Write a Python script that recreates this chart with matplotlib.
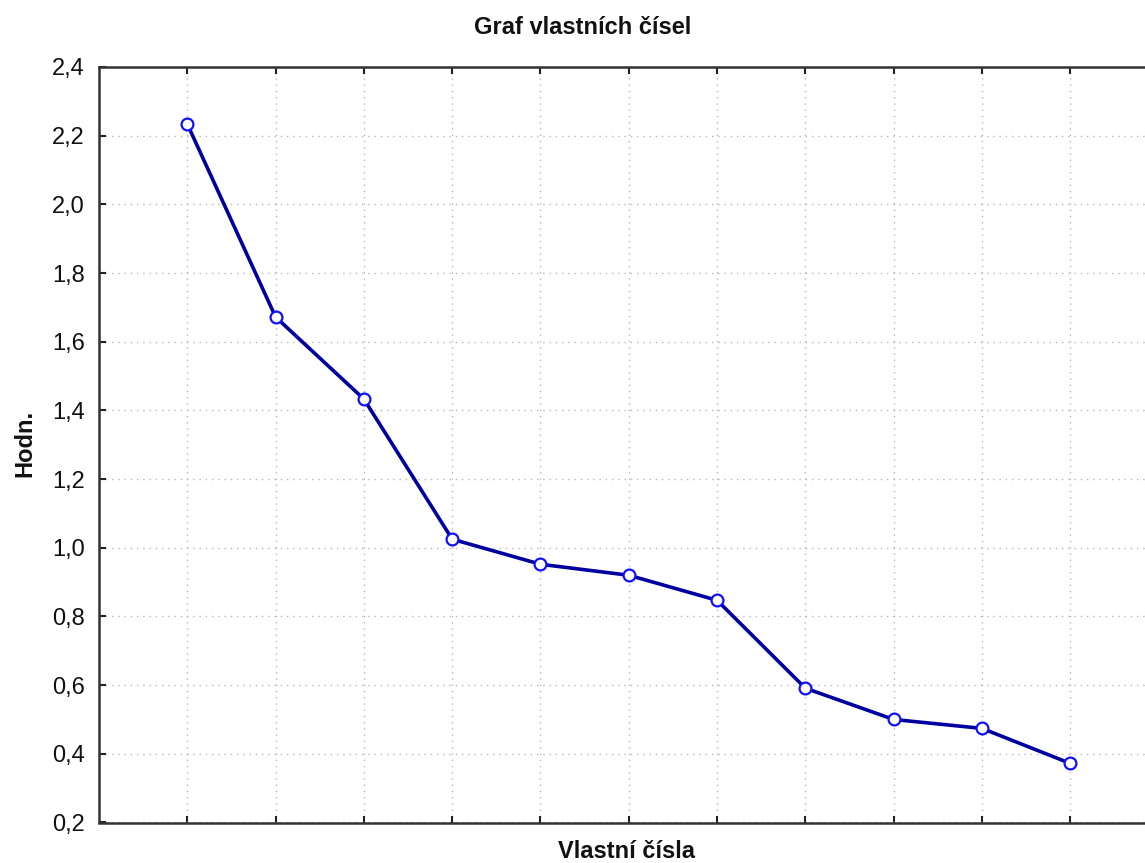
import matplotlib
matplotlib.use("Agg")
import matplotlib.pyplot as plt
from matplotlib.ticker import FuncFormatter, MultipleLocator

# eigenvalues
components = [1, 2, 3, 4, 5, 6, 7, 8, 9, 10, 11]
eigenvalues = [2.234, 1.672, 1.433, 1.025, 0.952, 0.920, 0.847, 0.591, 0.500, 0.474, 0.372]

plt.rcParams["font.family"] = ["Liberation Sans", "DejaVu Sans"]

W, H = 1145, 863
fig = plt.figure(figsize=(W / 100, H / 100), dpi=100)
fig.patch.set_facecolor("white")

# axes extends past the right edge of the image, as in the original
left, right, top, bottom = 99, 1158.6, 67, 822.5
ax = fig.add_axes([left / W, 1 - bottom / H, (right - left) / W, (bottom - top) / H])

ax.plot(components, eigenvalues, color="#0000a0", lw=2.6, zorder=3,
        marker="o", ms=8.5, mfc="white", mec="#1010ff", mew=1.6)

ax.set_xlim(0, 12)
ax.set_ylim(0.2, 2.4)
ax.xaxis.set_major_locator(MultipleLocator(1))
ax.yaxis.set_major_locator(MultipleLocator(0.2))
ax.yaxis.set_major_formatter(FuncFormatter(lambda v, _: f"{v:.1f}".replace(".", ",")))
ax.set_xticks(components)
ax.tick_params(axis="x", which="both", top=True, bottom=True, direction="in", length=5,
               width=1.5, color="#222222", labelbottom=False)
ax.tick_params(axis="y", direction="in", length=5, width=1.5, color="#222222",
               labelsize=17, pad=10, labelcolor="#111111")

ax.grid(True, color="#b8b8b8", ls=(0, (1, 3.5)), lw=1.0)
for s in ["left", "bottom", "top"]:
    ax.spines[s].set_linewidth(1.8)
    ax.spines[s].set_color("#333333")
ax.spines["right"].set_visible(False)

fig.text(583 / W, 1 - 28 / H, "Graf vlastních čísel", ha="center", va="center",
         fontsize=17, fontweight="bold", color="#111111")
fig.text(626 / W, 1 - 851 / H, "Vlastní čísla", ha="center", va="center",
         fontsize=17, fontweight="bold", color="#111111")
fig.text(25 / W, 1 - 443 / H, "Hodn.", ha="center", va="center", rotation=90,
         fontsize=17, fontweight="bold", color="#111111")

fig.savefig("out.png", dpi=100, facecolor="white")
